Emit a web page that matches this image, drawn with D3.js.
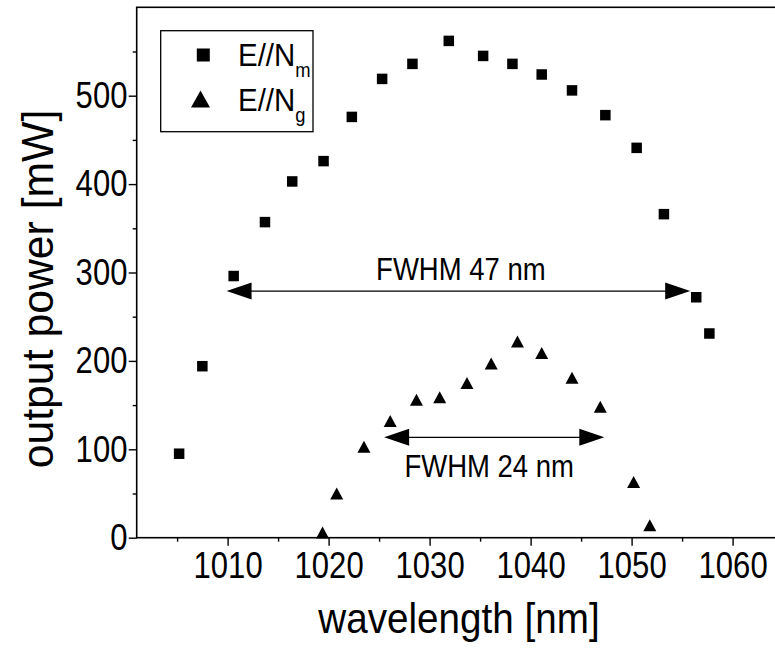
<!DOCTYPE html>
<html>
<head>
<meta charset="utf-8">
<script src="https://cdn.jsdelivr.net/npm/d3@7"></script>
<style>
  html, body { margin: 0; padding: 0; background: #fff; }
  svg { display: block; }
  text { font-family: "Liberation Sans", Arial, Helvetica, sans-serif; fill: #000; }
</style>
</head>
<body>
<svg id="chart" width="775" height="651"></svg>
<script>
// Output power vs. wavelength for the two polarisations
const wavelengthM = [1005.2, 1007.5, 1010.6, 1013.7, 1016.4, 1019.5, 1022.3, 1025.3, 1028.3, 1031.9,
                     1035.3, 1038.2, 1041.1, 1044.1, 1047.4, 1050.5, 1053.2, 1056.4, 1057.7];
const powerM      = [95, 194, 296, 357, 403, 426, 476, 519, 536, 562,
                     545, 536, 524, 506, 478, 441, 366, 272, 231];

const wavelengthG = [1019.4, 1020.8, 1023.5, 1026.1, 1028.7, 1031.0, 1033.7, 1036.1, 1038.7,
                     1041.1, 1044.1, 1046.9, 1050.2, 1051.8];
const powerG      = [6, 50, 103, 132, 156, 159, 175, 197, 222,
                     209, 181, 148, 63, 14];

const xTicks      = [1010, 1020, 1030, 1040, 1050, 1060];
const xMinorTicks = [1005, 1015, 1025, 1035, 1045, 1055, 1065];
const yTicks      = [0, 100, 200, 300, 400, 500];
const yMinorTicks = [50, 150, 250, 350, 450, 550];

const seriesBase = ["E//N", "E//N"];
const seriesSub  = ["m", "g"];

// FWHM annotations: [from nm, to nm, level mW]
const fwhmLabels = ["FWHM 47 nm", "FWHM 24 nm"];
const fwhmSpans  = [[1009.9, 1055.8, 279], [1025.5, 1047.3, 113.5]];

const xTitle = "wavelength [nm]";
const yTitle = "output power [mW]";

const svg = d3.select("#chart");

const x = d3.scaleLinear().domain([1001, 1065]).range([136.7, 783.1]);
const y = d3.scaleLinear().domain([0, 600]).range([537.7, 7.3]);

const squeeze = 0.84;  // horizontal condensation of the lettering

// plot frame (right side runs past the visible area)
svg.append("rect")
  .attr("x", x.range()[0]).attr("y", y.range()[1])
  .attr("width", x.range()[1] - x.range()[0])
  .attr("height", y.range()[0] - y.range()[1])
  .attr("fill", "none").attr("stroke", "#000").attr("stroke-width", 1.6);

// x axis
const gx = svg.append("g").attr("transform", `translate(0,${y.range()[0]})`);
gx.call(d3.axisBottom(x).tickValues(xTicks).tickSize(8).tickPadding(6).tickFormat(d3.format("d")));
gx.select(".domain").remove();
gx.selectAll(".tick line").attr("stroke", "#000").attr("stroke-width", 1.4);
gx.selectAll(".tick text")
  .attr("font-size", 37).attr("font-family", null)
  .attr("transform", `scale(${squeeze},1)`);

const gxm = svg.append("g").attr("transform", `translate(0,${y.range()[0]})`);
gxm.call(d3.axisBottom(x).tickValues(xMinorTicks).tickSize(4).tickFormat(""));
gxm.select(".domain").remove();
gxm.selectAll(".tick line").attr("stroke", "#000").attr("stroke-width", 1.4);

// y axis
const gy = svg.append("g").attr("transform", `translate(${x.range()[0]},0)`);
gy.call(d3.axisLeft(y).tickValues(yTicks).tickSize(8).tickPadding(3).tickFormat(d3.format("d")));
gy.select(".domain").remove();
gy.selectAll(".tick line").attr("stroke", "#000").attr("stroke-width", 1.4);
gy.selectAll(".tick text")
  .attr("font-size", 37).attr("font-family", null)
  .attr("transform", `scale(${squeeze},1)`);

const gym = svg.append("g").attr("transform", `translate(${x.range()[0]},0)`);
gym.call(d3.axisLeft(y).tickValues(yMinorTicks).tickSize(4).tickFormat(""));
gym.select(".domain").remove();
gym.selectAll(".tick line").attr("stroke", "#000").attr("stroke-width", 1.4);

// axis titles
svg.append("text")
  .attr("transform", `translate(459,633) scale(0.92,1)`)
  .attr("text-anchor", "middle").attr("font-size", 42)
  .text(xTitle);

svg.append("text")
  .attr("transform", `translate(53,289) rotate(-90) scale(0.95,1)`)
  .attr("text-anchor", "middle").attr("font-size", 45)
  .text(yTitle);

// markers
const squareSize = 10.5;
svg.append("g").selectAll("rect")
  .data(d3.zip(wavelengthM, powerM))
  .join("rect")
  .attr("x", d => x(d[0]) - squareSize / 2)
  .attr("y", d => y(d[1]) - squareSize / 2)
  .attr("width", squareSize).attr("height", squareSize)
  .attr("fill", "#000");

const tri = (w, h) => `M0,${-h / 2}L${w / 2},${h / 2}L${-w / 2},${h / 2}Z`;
svg.append("g").selectAll("path")
  .data(d3.zip(wavelengthG, powerG))
  .join("path")
  .attr("transform", d => `translate(${x(d[0])},${y(d[1])})`)
  .attr("d", tri(13, 12))
  .attr("fill", "#000");

// FWHM double arrows
const headLen = 25, headHalf = 8.5;
fwhmSpans.forEach((s, i) => {
  const x0 = x(s[0]), x1 = x(s[1]), yy = y(s[2]);
  const g = svg.append("g");
  g.append("line")
    .attr("x1", x0 + headLen - 2).attr("x2", x1 - headLen + 2)
    .attr("y1", yy).attr("y2", yy)
    .attr("stroke", "#000").attr("stroke-width", 1.3);
  g.append("path")
    .attr("d", `M${x0},${yy}L${x0 + headLen},${yy - headHalf}L${x0 + headLen},${yy + headHalf}Z`)
    .attr("fill", "#000");
  g.append("path")
    .attr("d", `M${x1},${yy}L${x1 - headLen},${yy - headHalf}L${x1 - headLen},${yy + headHalf}Z`)
    .attr("fill", "#000");
});

svg.append("text")
  .attr("transform", `translate(${x(1033.1)},${y(291.5)}) scale(0.86,1)`)
  .attr("text-anchor", "middle").attr("font-size", 32)
  .text(fwhmLabels[0]);

svg.append("text")
  .attr("transform", `translate(${x(1035.9)},${y(68.5)}) scale(0.86,1)`)
  .attr("text-anchor", "middle").attr("font-size", 32)
  .text(fwhmLabels[1]);

// legend
const legend = svg.append("g");
legend.append("rect")
  .attr("x", 160.7).attr("y", 30.7).attr("width", 152.3).attr("height", 101)
  .attr("fill", "#fff").attr("stroke", "#000").attr("stroke-width", 1.3);

legend.append("rect")
  .attr("x", 203.3 - 6.5).attr("y", 55 - 6.5).attr("width", 13).attr("height", 13)
  .attr("fill", "#000");
legend.append("path")
  .attr("transform", "translate(200.5,99)")
  .attr("d", tri(19, 17))
  .attr("fill", "#000");

[66, 111].forEach((base, i) => {
  const t = legend.append("text")
    .attr("transform", `translate(238,${base}) scale(0.92,1)`)
    .attr("font-size", 32);
  t.append("tspan").text(seriesBase[i]);
  t.append("tspan").attr("font-size", 20).attr("dy", 11).text(seriesSub[i]);
});
</script>
</body>
</html>
